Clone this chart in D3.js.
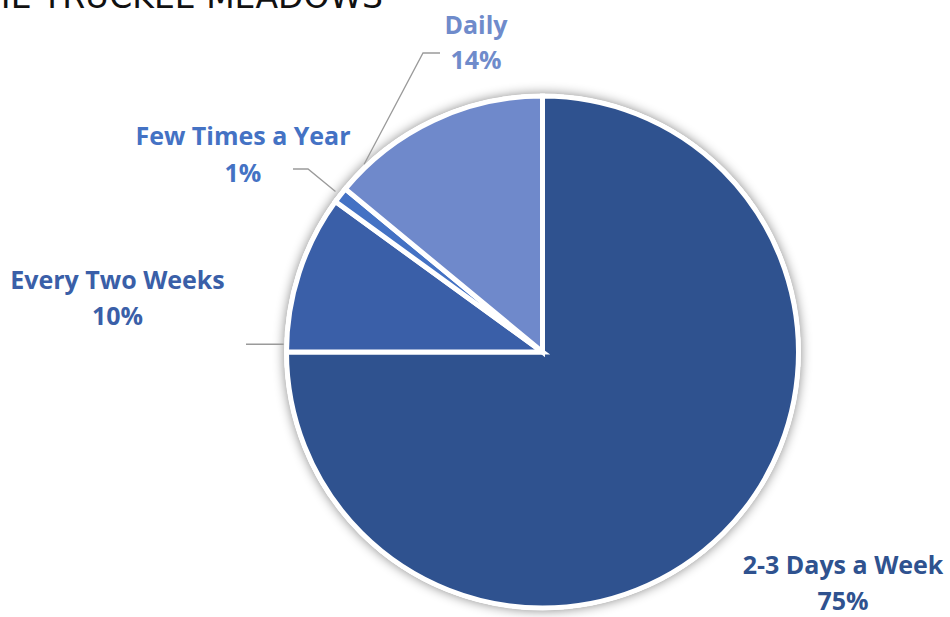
<!DOCTYPE html>
<html><head><meta charset="utf-8">
<script src="https://cdn.jsdelivr.net/npm/d3@7"></script>
<style>body{margin:0;background:#fff}svg{display:block}</style>
</head><body>
<script>
const categories = ["2-3 Days a Week", "Every Two Weeks", "Few Times a Year", "Daily"];
const values = [75, 10, 1, 14];
const pctLabels = ["75%", "10%", "1%", "14%"];
const colors = ["#2F528F", "#3A5FA8", "#4472C4", "#6F89CB"];
const labelColors = ["#2F528F", "#3A5FA8", "#4472C4", "#6F8BCB"];
const titleText = "THE TRUCKEE MEADOWS";

const W = 950, H = 617, cx = 542.5, cy = 352, R = 256;
const svg = d3.select("body").append("svg").attr("width", W).attr("height", H);
const defs = svg.append("defs");
const f = defs.append("filter").attr("id", "sh").attr("x", "-20%").attr("y", "-20%").attr("width", "140%").attr("height", "140%");
f.append("feGaussianBlur").attr("in", "SourceAlpha").attr("stdDeviation", 6).attr("result", "b");
f.append("feComponentTransfer").attr("in", "b").attr("result", "o2").append("feFuncA").attr("type", "linear").attr("slope", 0.5);
const m = f.append("feMerge"); m.append("feMergeNode").attr("in", "o2"); m.append("feMergeNode").attr("in", "SourceGraphic");

svg.append("text").attr("x", 383).attr("y", 8).attr("text-anchor", "end")
  .attr("font-family", "DejaVu Sans").attr("font-size", 33).attr("fill", "#111").text(titleText);

const data = categories.map((c, i) => ({c, v: values[i], p: pctLabels[i], col: colors[i], lc: labelColors[i]}));
const pie = d3.pie().sort(null).value(d => d.v);
const arcs = pie(data);
const arc = d3.arc().innerRadius(0).outerRadius(R);
const g = svg.append("g").attr("transform", `translate(${cx},${cy})`);
g.append("circle").attr("r", R + 2).attr("fill", "#fff").attr("filter", "url(#sh)");
g.selectAll("path").data(arcs).enter().append("path")
  .attr("d", arc).attr("fill", d => d.data.col)
  .attr("stroke", "#fff").attr("stroke-width", 5).attr("stroke-linejoin", "miter");

// label positions (absolute: centre x, first baseline, second baseline)
const labelPos = {
  "Daily": [476, 34, 69],
  "Few Times a Year": [243, 145, 182],
  "Every Two Weeks": [117.5, 289, 325],
  "2-3 Days a Week": [843, 574, 610]
};
const lab = svg.append("g").attr("font-family", "'Open Sans', sans-serif").attr("font-weight", "bold")
  .attr("font-size", 25).attr("text-anchor", "middle");
arcs.forEach(a => {
  const [x, y1, y2] = labelPos[a.data.c];
  const t = lab.append("text").attr("fill", a.data.lc);
  t.append("tspan").attr("x", x).attr("y", y1).text(a.data.c);
  t.append("tspan").attr("x", x).attr("y", y2).text(a.data.p);
});

// leader lines from arc edge
function edge(a, r) { const ang = (a.startAngle + a.endAngle) / 2; return [cx + r * Math.sin(ang), cy - r * Math.cos(ang)]; }
const lines = svg.append("g").attr("fill", "none").attr("stroke", "#9a9a9a").attr("stroke-width", 1.3);
const byName = {}; arcs.forEach(a => byName[a.data.c] = a);
{ const a = byName["Daily"]; const ang = a.startAngle + 0.12; const p = [cx + (R + 3) * Math.sin(ang), cy - (R + 3) * Math.cos(ang)];
  lines.append("path").attr("d", d3.line()([p, [423, 53], [440, 53]])); }
{ const a = byName["Few Times a Year"]; const p = edge(a, R + 6);
  lines.append("path").attr("d", d3.line()([p, [308, 169], [293, 169]])); }
{ const a = byName["Every Two Weeks"]; const ang = a.startAngle + 0.03; const p = [cx + (R + 3) * Math.sin(ang), cy - (R + 3) * Math.cos(ang)];
  lines.append("path").attr("d", d3.line()([[246, p[1]], p])); }
</script>
</body></html>
